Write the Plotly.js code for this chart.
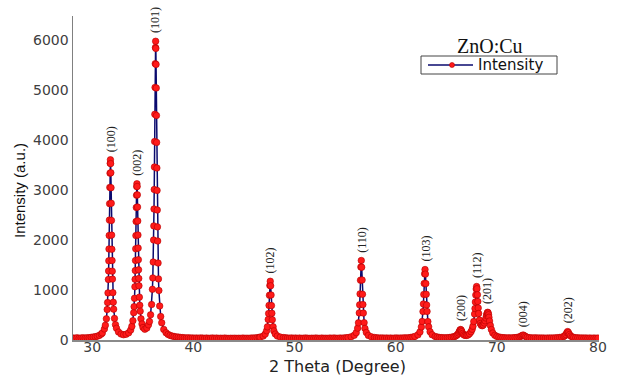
<!DOCTYPE html>
<html>
<head>
<meta charset="utf-8">
<script src="https://cdn.plot.ly/plotly-3.0.1.min.js"></script>
<style>html,body{margin:0;padding:0;background:#fff;}#chart{width:628px;height:379px;}</style>
</head>
<body>
<div id="chart"></div>
<script>
// 2 Theta (degree) values
const twoTheta = [
  28.1,28.3,28.5,28.7,28.9,29.1,29.3,29.5,29.7,29.9,30.1,30.3,30.5,30.7,30.9,
  31.0,31.2,31.3,31.4,31.48,31.52,31.56,31.6,31.62,31.64,31.66,31.68,31.7,31.72,31.74,31.76,31.78,31.8,31.82,31.84,31.86,31.88,31.9,31.92,31.94,31.96,31.98,32.0,32.04,32.08,32.12,32.2,32.3,32.4,32.6,32.85,33.1,33.35,33.6,33.8,
  33.92,34.02,34.1,34.14,34.18,34.22,34.24,34.26,34.28,34.3,34.32,34.34,34.36,34.38,34.4,34.42,34.44,34.46,34.48,34.5,34.52,34.54,34.56,34.58,34.6,34.62,34.66,34.7,34.74,34.82,34.92,35.02,35.2,35.4,35.56,35.66,
  35.77,35.87,35.95,35.99,36.03,36.07,36.09,36.11,36.13,36.15,36.17,36.19,36.21,36.23,36.25,36.27,36.29,36.31,36.33,36.35,36.37,36.39,36.41,36.43,36.45,36.47,36.51,36.55,36.59,36.67,36.77,36.87,37.07,37.3,37.5,37.7,37.9,38.1,38.3,38.5,38.7,38.9,
  39.1,39.3,39.5,39.7,39.9,40.1,40.3,40.5,40.7,40.9,41.1,41.3,41.5,41.7,41.9,42.1,42.3,42.5,42.7,42.9,43.1,43.3,43.5,43.7,43.9,44.1,44.3,44.5,44.7,44.9,45.1,45.3,45.5,45.7,45.9,46.1,46.3,46.5,
  46.6,46.9,47.1,47.24,47.32,47.4,47.44,47.48,47.52,47.56,47.6,47.64,47.68,47.72,47.76,47.8,47.88,47.96,48.1,48.3,48.6,48.9,
  49.1,49.3,49.5,49.7,49.9,50.1,50.3,50.5,50.7,50.9,51.1,51.3,51.5,51.7,51.9,52.1,52.3,52.5,52.7,52.9,53.1,53.3,53.5,53.7,53.9,54.1,54.3,54.5,54.7,54.9,55.1,55.3,
  55.6,55.9,56.1,56.24,56.32,56.4,56.44,56.48,56.52,56.56,56.6,56.64,56.68,56.72,56.76,56.8,56.88,56.96,57.1,57.3,57.6,57.9,
  58.1,58.3,58.5,58.7,58.9,59.1,59.3,59.5,59.7,59.9,60.1,60.3,60.5,60.7,60.9,61.1,61.3,61.5,61.7,
  61.9,62.2,62.4,62.54,62.62,62.7,62.74,62.78,62.82,62.86,62.9,62.94,62.98,63.02,63.06,63.1,63.18,63.26,63.4,63.6,63.9,
  64.1,64.3,64.5,64.7,64.9,65.1,65.3,65.5,65.7,
  65.85,66.0,66.12,66.22,66.3,66.36,66.42,66.48,66.54,66.62,66.72,66.85,67.0,
  67.15,67.3,67.45,67.56,67.64,67.72,67.8,67.84,67.88,67.92,67.96,68.0,68.04,68.08,68.12,68.16,68.2,68.28,68.36,68.46,68.56,68.66,68.76,68.84,68.92,68.98,69.02,69.06,69.1,69.14,69.18,69.22,69.28,69.36,69.46,69.6,69.8,70.0,70.2,70.4,
  70.6,70.8,71.0,71.2,71.4,71.6,71.8,72.0,
  72.2,72.35,72.48,72.6,72.72,72.85,73.0,73.2,
  73.4,73.6,73.8,74.0,74.2,74.4,74.6,74.8,75.0,75.2,75.4,75.6,75.8,76.0,76.2,76.4,
  76.6,76.72,76.82,76.92,77.0,77.08,77.18,77.3,77.45,77.6,
  77.8,78.0,78.2,78.4,78.6,78.8,79.0,79.2,79.4,79.6,79.8,80.0
];
// Intensity (a.u.) values
const intensity = [
  40,37,44,35,41,43,38,46,44,54,58,66,76,92,119,
  142,220,295,424,610,749,942,1210,1381,1584,1820,2091,2398,2727,3052,3337,3534,3605,3528,3345,3046,2734,2392,2098,1815,1590,1376,1218,947,755,617,432,307,235,160,120,105,115,143,200,
  273,386,547,667,833,1065,1214,1388,1590,1825,2088,2372,2651,2896,3069,3125,3071,2903,2659,2381,2100,1838,1606,1404,1231,1085,857,694,577,424,321,250,215,240,303,371,
  504,710,1013,1241,1559,2000,2282,2619,3010,3460,3969,4514,5052,5526,5850,5975,5832,5512,5040,4490,3952,3440,2992,2600,2262,1980,1540,1222,990,680,470,345,212,145,112,92,78,70,62,58,52,48,
  45,41,44,38,42,37,40,36,41,38,35,39,34,37,40,35,38,33,37,34,38,35,32,36,34,37,33,36,34,38,35,37,34,38,40,42,47,52,
  57,79,118,185,263,410,530,692,895,1090,1175,1085,900,688,535,405,266,182,120,80,58,48,
  44,40,37,41,36,39,35,38,34,37,40,36,33,37,35,39,36,34,38,35,37,34,38,36,40,37,35,39,37,41,44,49,
  64,94,147,237,343,542,703,922,1196,1460,1590,1455,1200,915,708,538,347,232,150,92,63,50,
  45,41,38,42,37,40,36,39,35,38,41,37,40,38,43,41,46,52,58,
  72,103,162,261,372,569,720,912,1131,1324,1410,1318,1128,915,700,572,368,264,165,105,70,
  60,52,48,46,44,47,50,56,64,
  72,88,110,140,172,198,210,196,168,132,105,92,92,
  100,125,165,215,275,370,520,630,760,900,1020,1070,1025,905,770,640,530,400,330,295,285,300,340,385,440,490,520,545,555,540,505,455,380,290,210,140,95,72,60,52,
  48,45,42,44,41,45,48,52,
  60,72,88,100,86,68,55,47,
  43,40,44,39,42,38,41,37,40,38,42,39,43,46,50,56,
  68,84,108,145,168,148,110,80,62,52,
  46,43,40,42,38,41,37,40,36,39,37,38
];
// Miller indices of the labelled reflections and their 2 Theta positions
const hklLabels = ['(100)','(002)','(101)','(102)','(110)','(103)','(200)','(112)','(201)','(004)','(202)'];
const hklPositions = [31.8,34.42,36.27,47.6,56.6,62.9,66.42,68.0,69.1,72.6,77.0];
const xTicks = [30,40,50,60,70,80];
const yTicks = [0,1000,2000,3000,4000,5000,6000];
const seriesName = 'Intensity';
const sampleName = 'ZnO:Cu';

function localMax(pos){
  let m = 0;
  for(let i=0;i<twoTheta.length;i++){
    if(Math.abs(twoTheta[i]-pos) <= 0.05 && intensity[i] > m) m = intensity[i];
  }
  return m;
}

const lineColor = '#0a0a6e';
const markerColor = '#ff1a1a';

const trace = {
  x: twoTheta, y: intensity, type: 'scatter', mode: 'lines+markers', name: seriesName,
  showlegend: false,
  line: {color: lineColor, width: 1.5},
  marker: {color: markerColor, size: 6.5, line: {color: '#b40000', width: 0.6}}
};

// plot area in pixels: x 73..599, y 16..340
const L = 73, R = 599, T = 16, B = 340;
const px = v => (v - L) / (R - L);
const py = v => (B - v) / (B - T);

const annotations = hklLabels.map((t,i)=>({
  x: hklPositions[i], y: localMax(hklPositions[i]), xref: 'x', yref: 'y',
  text: t, showarrow: false, textangle: -90, xanchor: 'center', yanchor: 'bottom', yshift: 6,
  font: {family: 'Liberation Serif', size: 12, color: '#222'}
}));
annotations.push({
  text: 'Intensity (a.u.)', xref: 'paper', yref: 'paper', x: px(19), y: py(191),
  showarrow: false, textangle: -90, xanchor: 'center', yanchor: 'middle',
  font: {family: 'Liberation Sans', size: 15, color: '#111'}
});
annotations.push({
  text: '2 Theta (Degree)', xref: 'paper', yref: 'paper', x: px(337), y: py(366),
  showarrow: false, xanchor: 'center', yanchor: 'middle',
  font: {family: 'DejaVu Sans', size: 16, color: '#222'}
});
annotations.push({
  text: sampleName, xref: 'paper', yref: 'paper', x: px(490), y: py(46),
  showarrow: false, xanchor: 'center', yanchor: 'middle',
  font: {family: 'Liberation Serif', size: 20, color: '#111'}
});
// legend entry text
annotations.push({
  text: seriesName, xref: 'paper', yref: 'paper', x: px(476), y: py(65),
  showarrow: false, xanchor: 'left', yanchor: 'middle',
  font: {family: 'DejaVu Sans', size: 15, color: '#111'}
});

// legend box and symbol
const shapes = [
  {type: 'rect', xref: 'paper', yref: 'paper', x0: px(421), x1: px(557), y0: py(56), y1: py(74),
   line: {color: '#444', width: 1}, fillcolor: '#fff', layer: 'above'},
  {type: 'line', xref: 'paper', yref: 'paper', x0: px(428), x1: px(473), y0: py(65), y1: py(65),
   line: {color: lineColor, width: 1.5}, layer: 'above'},
  {type: 'circle', xref: 'paper', yref: 'paper', x0: px(449.5), x1: px(454.5), y0: py(67.5), y1: py(62.5),
   line: {color: '#b40000', width: 0.6}, fillcolor: markerColor, layer: 'above'}
];

const layout = {
  width: 628, height: 379,
  margin: {l: L, r: 628 - R, t: T, b: 379 - B},
  paper_bgcolor: '#fff', plot_bgcolor: '#fff',
  showlegend: false,
  xaxis: {range: [28.1, 80.1], tickvals: xTicks, ticktext: xTicks.map(String), showgrid: false, zeroline: false,
          showline: true, linecolor: '#8a8a8a', linewidth: 2, ticks: '', ticklabelstandoff: -7,
          tickfont: {family: 'DejaVu Sans', size: 14, color: '#404040'}},
  yaxis: {range: [0, 6480], tickvals: yTicks, ticktext: yTicks.map(String), showgrid: false, zeroline: false,
          showline: true, linecolor: '#808080', linewidth: 1.5, ticks: '',
          tickfont: {family: 'DejaVu Sans', size: 14, color: '#404040'}},
  annotations: annotations,
  shapes: shapes
};

Plotly.newPlot('chart', [trace], layout, {displayModeBar: false, staticPlot: true});
</script>
</body>
</html>
